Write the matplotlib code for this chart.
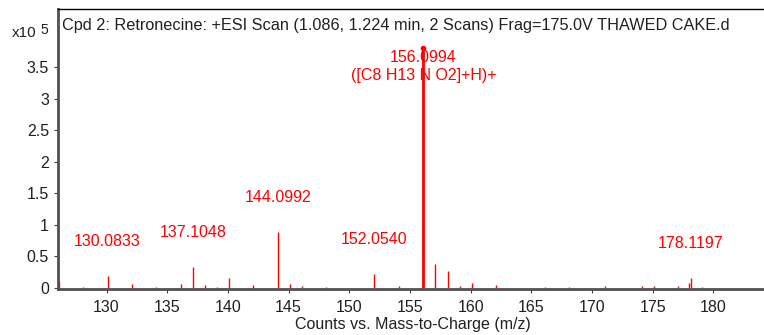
import matplotlib
matplotlib.use('Agg')
import matplotlib.pyplot as plt

plt.rcParams['font.family'] = ['Liberation Sans', 'DejaVu Sans']

# peak list (m/z, counts in units of 1e5)
mz = [126.1, 128.1, 130.08, 132.1, 134.1, 136.1, 137.10, 138.1, 139.1, 140.1,
      142.1, 144.10, 145.1, 146.1, 148.1, 152.05, 154.1, 156.10, 157.10, 158.1,
      159.1, 160.1, 162.1, 166.1, 168.1, 171.1, 174.1, 175.1, 177.1, 178.02, 178.12, 179.1]
counts = [0.10, 0.01, 0.185, 0.06, 0.01, 0.06, 0.33, 0.04, 0.01, 0.15,
          0.04, 0.88, 0.06, 0.03, 0.01, 0.22, 0.02, 3.80, 0.38, 0.27,
          0.02, 0.08, 0.05, 0.01, 0.01, 0.02, 0.02, 0.02, 0.03, 0.07, 0.15, 0.01]

labels_mz = [130.0833, 137.1048, 144.0992, 152.0540, 178.1197]
labels_h = [0.185, 0.33, 0.88, 0.22, 0.15]
main_mz = 156.0994
main_h = 3.80
main_formula = '([C8 H13 N O2]+H)+'

title = 'Cpd 2: Retronecine: +ESI Scan (1.086, 1.224 min, 2 Scans) Frag=175.0V THAWED CAKE.d'

fig = plt.figure(figsize=(7.64, 3.35), dpi=100)
ax = fig.add_axes([58/764, 1 - 289/335, 710/764, 280/335])

ax.vlines(mz, 0, counts, color='#ff0000', linewidth=1)
ax.vlines([main_mz], 0, [main_h], color='#ff0000', linewidth=2)
ax.plot([main_mz], [main_h], marker='o', markersize=3, color='#ff0000')

for x, h in zip(labels_mz, labels_h):
    ax.annotate(f'{x:.4f}', (x, h), xytext=(0, 25), textcoords='offset points',
                ha='center', va='center', color='#ff0000', fontsize=11.5)
ax.annotate(f'{main_mz:.4f}', (main_mz, main_h), xytext=(0, -7), textcoords='offset points',
            ha='center', va='center', color='#ff0000', fontsize=11.5)
ax.annotate(main_formula, (main_mz, main_h), xytext=(0, -20), textcoords='offset points',
            ha='center', va='center', color='#ff0000', fontsize=11.5)

ax.set_xlim(126.0, 184.5)
ax.set_ylim(-0.02, 4.42)
ax.set_xticks(range(130, 185, 5))
ax.set_yticks([0, 0.5, 1, 1.5, 2, 2.5, 3, 3.5])
ax.set_yticklabels(['0', '0.5', '1', '1.5', '2', '2.5', '3', '3.5'])
ax.tick_params(labelsize=11.5, length=3, color='#404040', labelcolor='#202020')
ax.tick_params(axis='x', pad=5)

for s in ['left', 'bottom']:
    ax.spines[s].set_linewidth(2)
    ax.spines[s].set_color('#505050')
ax.spines['top'].set_linewidth(1)
ax.spines['right'].set_visible(False)

ax.text(0.006, 0.94, title, transform=ax.transAxes, ha='left', va='center',
        fontsize=11.7, color='#202020')
fig.text(12/764, 1 - 33/335, 'x10', fontsize=11, color='#202020', ha='left', va='center')
fig.text(40/764, 1 - 30/335, '5', fontsize=10, color='#202020', ha='left', va='center')
ax.set_xlabel('Counts vs. Mass-to-Charge (m/z)', fontsize=11.5, color='#202020', labelpad=1)

fig.savefig('out.png', dpi=100)
